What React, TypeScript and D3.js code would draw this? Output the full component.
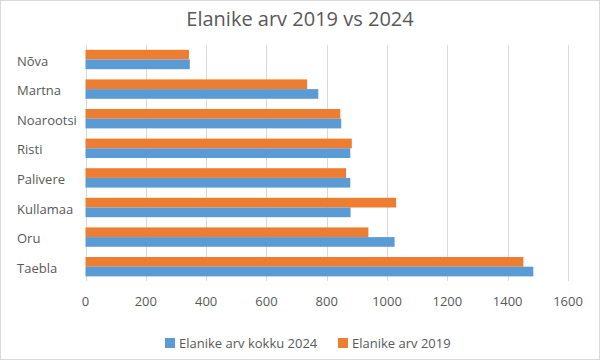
import { useEffect, useRef } from "react";
import * as d3 from "d3";

// Categories, top to bottom
const categories: string[] = ["Nõva", "Martna", "Noarootsi", "Risti", "Palivere", "Kullamaa", "Oru", "Taebla"];
const seriesNames: string[] = ["Elanike arv 2019", "Elanike arv kokku 2024"];
const values2019: number[] = [343, 735, 845, 883, 864, 1030, 938, 1452];
const values2024: number[] = [346, 772, 848, 878, 878, 879, 1025, 1485];
const xTicks: number[] = [0, 200, 400, 600, 800, 1000, 1200, 1400, 1600];

const W = 600;
const H = 360;
const FONT = "'Open Sans', sans-serif";
const TEXT = "#595959";
const GRID = "#d9d9d9";
const colors: Record<string, string> = {
  "Elanike arv 2019": "#ed7d31",
  "Elanike arv kokku 2024": "#5b9bd5",
};

const App = () => {
  const ref = useRef<SVGSVGElement | null>(null);

  useEffect(() => {
    const svg = d3.select(ref.current);
    svg.selectAll("*").remove();

    // chart border
    svg.append("rect")
      .attr("x", 0.5).attr("y", 0.5)
      .attr("width", W - 1).attr("height", H - 1)
      .attr("fill", "white").attr("stroke", GRID);

    // title
    svg.append("text")
      .attr("x", W / 2).attr("y", 18)
      .attr("text-anchor", "middle").attr("dominant-baseline", "central")
      .attr("font-family", FONT).attr("font-size", 20).attr("fill", TEXT)
      .text("Elanike arv 2019 vs 2024");

    const x = d3.scaleLinear().domain([0, 1600]).range([85.5, 568]);
    const y = d3.scaleBand<string>().domain(categories).range([44.7, 281.5])
      .paddingInner(0.345).paddingOuter(0.1725);
    const ySub = d3.scaleBand<string>().domain(seriesNames).range([0, y.bandwidth()]);

    // gridlines
    svg.append("g").selectAll("line").data(xTicks).enter().append("line")
      .attr("x1", (d) => Math.round(x(d)) + 0.5).attr("x2", (d) => Math.round(x(d)) + 0.5)
      .attr("y1", 45).attr("y2", 281)
      .attr("stroke", GRID).attr("stroke-width", 1);

    // tick labels
    svg.append("g").selectAll("text").data(xTicks).enter().append("text")
      .attr("x", (d) => x(d)).attr("y", 301)
      .attr("text-anchor", "middle").attr("dominant-baseline", "central")
      .attr("font-family", FONT).attr("font-size", 13).attr("fill", TEXT)
      .text((d) => String(d));

    // category labels
    svg.append("g").selectAll("text").data(categories).enter().append("text")
      .attr("x", 17).attr("y", (d) => (y(d) as number) + y.bandwidth() / 2 + 1)
      .attr("dominant-baseline", "central")
      .attr("font-family", FONT).attr("font-size", 13).attr("fill", TEXT)
      .text((d) => d);

    // bars
    const rows = categories.map((c, i) => ({ cat: c, vals: [values2019[i], values2024[i]] }));
    const groups = svg.append("g").selectAll("g").data(rows).enter().append("g")
      .attr("transform", (d) => `translate(0,${y(d.cat)})`);
    groups.selectAll("rect")
      .data((d) => seriesNames.map((s, j) => ({ s, v: d.vals[j] })))
      .enter().append("rect")
      .attr("x", x(0))
      .attr("y", (d) => ySub(d.s) as number)
      .attr("width", (d) => x(d.v) - x(0))
      .attr("height", ySub.bandwidth())
      .attr("fill", (d) => colors[d.s]);

    // legend
    const legend = [
      { name: "Elanike arv kokku 2024", x: 165 },
      { name: "Elanike arv 2019", x: 338 },
    ];
    const lg = svg.append("g").selectAll("g").data(legend).enter().append("g")
      .attr("transform", (d) => `translate(${d.x},343)`);
    lg.append("rect").attr("x", 0).attr("y", -5).attr("width", 10).attr("height", 10)
      .attr("fill", (d) => colors[d.name]);
    lg.append("text").attr("x", 14).attr("y", 0)
      .attr("dominant-baseline", "central")
      .attr("font-family", FONT).attr("font-size", 13).attr("fill", TEXT)
      .text((d) => d.name);
  }, []);

  return (
    <svg ref={ref} width={W} height={H}
      style={{ position: "absolute", left: 0, top: 0, display: "block" }} />
  );
};

export default App;
